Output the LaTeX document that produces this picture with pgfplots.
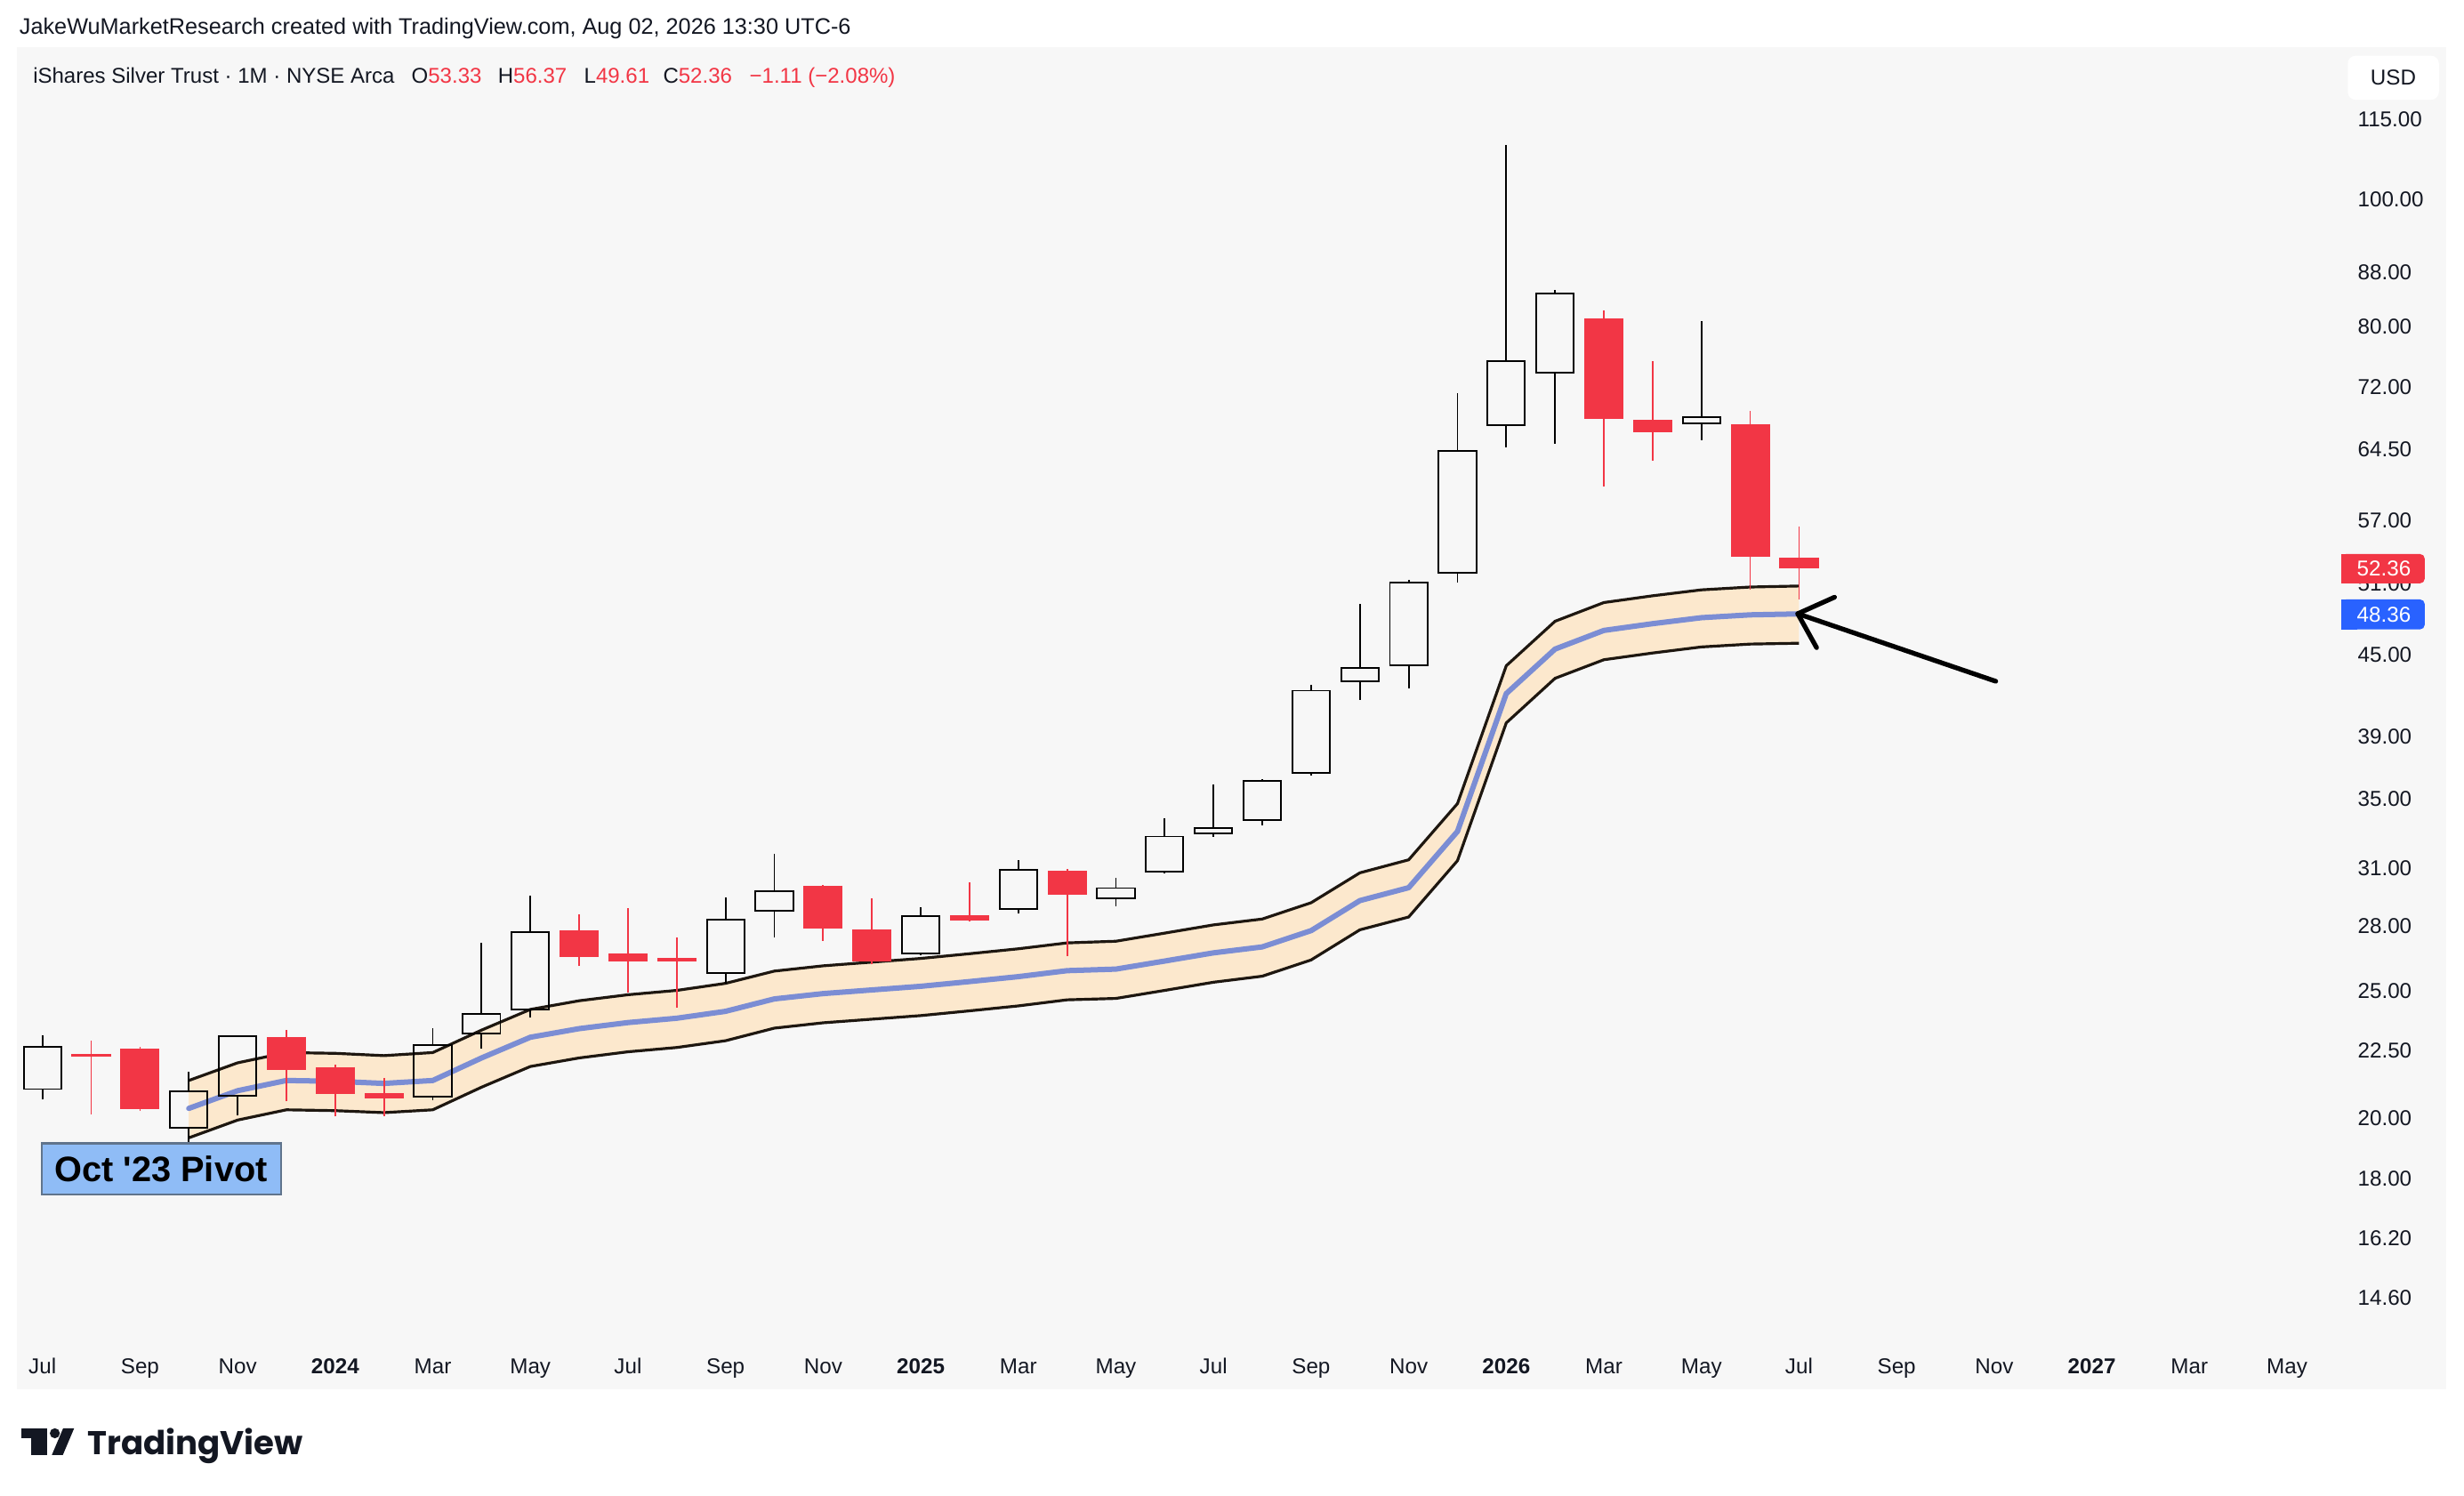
\documentclass[border=0pt]{standalone}
\usepackage{fontspec}
\setmainfont{Liberation Sans}
\newfontfamily\logofont{Poppins}
\usepackage{pgfplots}
\pgfplotsset{compat=1.18}
\usepackage{pgfplotstable}
\definecolor{tvred}{HTML}{F23645}
\definecolor{tvblue}{HTML}{2962FF}
\definecolor{tvtext}{HTML}{131722}
\definecolor{panel}{HTML}{F7F7F7}
\definecolor{peach}{HTML}{FCE8CD}
\definecolor{bandblue}{HTML}{7B8DD4}
\definecolor{bandedge}{HTML}{1E1710}
\definecolor{pivotfill}{HTML}{8FBCF6}
\definecolor{pivotdraw}{HTML}{60748C}
\newcommand{\tkf}{\fontsize{6.85pt}{8pt}\selectfont}

% Band: middle line, upper and lower envelope (month index, Jul 2023 = 0)
\pgfplotstableread{
m mid up lo
3 20.34 21.36 19.32
4 20.98 22.03 19.93
5 21.36 22.43 20.29
6 21.33 22.40 20.26
7 21.25 22.31 20.19
8 21.36 22.43 20.29
9 22.22 23.33 21.11
10 23.04 24.19 21.89
11 23.39 24.56 22.22
12 23.64 24.82 22.46
13 23.82 25.01 22.63
14 24.11 25.32 22.90
15 24.64 25.87 23.41
16 24.87 26.11 23.63
17 25.03 26.28 23.78
18 25.19 26.45 23.93
19 25.40 26.67 24.13
20 25.62 26.90 24.34
21 25.89 27.18 24.60
22 25.96 27.26 24.66
23 26.33 27.65 25.01
24 26.71 28.05 25.37
25 26.99 28.34 25.64
26 27.77 29.16 26.38
27 29.27 30.73 27.81
28 29.94 31.44 28.44
29 33.04 34.69 31.39
30 42.06 44.16 39.96
31 45.47 47.74 43.20
32 46.98 49.33 44.63
33 47.54 49.92 45.16
34 48.04 50.44 45.64
35 48.28 50.69 45.87
36 48.36 50.78 45.94
}\band

\begin{document}
\begin{tikzpicture}
\fill[white] (0,0) rectangle (784pt,476pt);
\begin{scope}[x=0.5pt,y=-0.5pt,shift={(0pt,476pt)}]
  \fill[panel] (11,30) rectangle (1556.6,884);
  \node[anchor=base west, inner sep=0, text=tvtext, font=\fontsize{7.15pt}{8pt}\selectfont] at (12,22)
    {JakeWuMarketResearch created with TradingView.com, Aug 02, 2026 13:30 UTC-6};
  \begin{scope}[every node/.style={anchor=base west, inner sep=0, text=tvtext, font=\fontsize{6.8pt}{8pt}\selectfont}]
    \node at (20.7,53) {iShares Silver Trust · 1M · NYSE Arca};
    \node at (261.5,53) {O\textcolor{tvred}{53.33}};
    \node at (316.5,53) {H\textcolor{tvred}{56.37}};
    \node at (371.3,53) {L\textcolor{tvred}{49.61}};
    \node at (421.6,53) {C\textcolor{tvred}{52.36}};
    \node at (476.6,53) {\textcolor{tvred}{−1.11 (−2.08\%)}};
  \end{scope}
  % TradingView logo
  \fill[tvtext] (13.6,909) rectangle (30.2,915.2);
  \fill[tvtext] (19.8,909) rectangle (30.2,926);
  \fill[tvtext] (34.9,912.2) circle[radius=3.2];
  \fill[tvtext] (40.2,909) -- (47.2,909) -- (40.0,926) -- (33.0,926) -- cycle;
  \node[anchor=base west, inner sep=0, text=tvtext, font=\logofont\bfseries\fontsize{10.5pt}{12pt}\selectfont] at (55.3,926) {TradingView};
\end{scope}

\begin{axis}[
  at={(5.5pt,50pt)}, anchor=south west, scale only axis,
  width=733.5pt, height=411pt,
  xmin=-0.515, xmax=46.73,
  ymode=log, ymin=13.59, ymax=130.5,
  axis line style={draw=none},
  tick style={draw=none}, major tick length=0pt, minor tick length=0pt,
  xtick={0,2,...,46},
  xticklabels={Jul,Sep,Nov,\textbf{2024},Mar,May,Jul,Sep,Nov,\textbf{2025},Mar,May,Jul,Sep,Nov,\textbf{2026},Mar,May,Jul,Sep,Nov,\textbf{2027},Mar,May},
  ytick={14.6,16.2,18,20,22.5,25,28,31,35,39,45,51,57,64.5,72,80,88,100,115},
  yticklabels={14.60,16.20,18.00,20.00,22.50,25.00,28.00,31.00,35.00,39.00,45.00,51.00,57.00,64.50,72.00,80.00,88.00,100.00,115.00},
  yticklabel pos=right,
  xticklabel style={font=\tkf, text=tvtext, anchor=base, yshift=-11.2pt, inner sep=0pt},
  yticklabel style={font=\tkf, text=tvtext, anchor=west, xshift=11pt, inner sep=0pt},
  unbounded coords=jump,
]
% band area: upper envelope left to right, then lower envelope right to left
\addplot[fill=peach, draw=none] coordinates {
(3,21.36)(4,22.03)(5,22.43)(6,22.40)(7,22.31)(8,22.43)(9,23.33)(10,24.19)(11,24.56)(12,24.82)
(13,25.01)(14,25.32)(15,25.87)(16,26.11)(17,26.28)(18,26.45)(19,26.67)(20,26.90)(21,27.18)(22,27.26)
(23,27.65)(24,28.05)(25,28.34)(26,29.16)(27,30.73)(28,31.44)(29,34.69)(30,44.16)(31,47.74)(32,49.33)
(33,49.92)(34,50.44)(35,50.69)(36,50.78)
(36,45.94)(35,45.87)(34,45.64)(33,45.16)(32,44.63)(31,43.20)(30,39.96)(29,31.39)(28,28.44)(27,27.81)
(26,26.38)(25,25.64)(24,25.37)(23,25.01)(22,24.66)(21,24.60)(20,24.34)(19,24.13)(18,23.93)(17,23.78)
(16,23.63)(15,23.41)(14,22.90)(13,22.63)(12,22.46)(11,22.22)(10,21.89)(9,21.11)(8,20.29)(7,20.19)
(6,20.26)(5,20.29)(4,19.93)(3,19.32)
} -- cycle;
\addplot[bandedge, line width=0.9pt, line join=round] table[x=m, y=up] {\band};
\addplot[bandedge, line width=0.9pt, line join=round] table[x=m, y=lo] {\band};
\addplot[bandblue, line width=1.7pt, line join=round, line cap=round] table[x=m, y=mid] {\band};

% ---- rising (hollow) candles: wick low->open and close->high
\addplot[black, line width=0.5pt] coordinates {
(0,20.65)(0,21.04)(0,nan)(0,22.65)(0,23.12)(0,nan)
(3,18.96)(3,19.66)(3,nan)(3,20.96)(3,21.70)(3,nan)
(4,20.08)(4,20.80)(4,nan)(4,23.07)(4,23.12)(4,nan)
(8,20.63)(8,20.77)(8,nan)(8,22.72)(8,23.42)(8,nan)
(9,22.60)(9,23.18)(9,nan)(9,23.99)(9,27.20)(9,nan)
(10,23.85)(10,24.18)(10,nan)(10,27.68)(10,29.53)(10,nan)
(14,25.29)(14,25.80)(14,nan)(14,28.33)(14,29.44)(14,nan)
(15,27.45)(15,28.76)(15,nan)(15,29.74)(15,31.78)(15,nan)
(18,26.60)(18,26.69)(18,nan)(18,28.47)(18,28.95)(18,nan)
(20,28.60)(20,28.83)(20,nan)(20,30.91)(20,31.43)(20,nan)
(22,29.00)(22,29.37)(22,nan)(22,29.92)(22,30.47)(22,nan)
(23,30.70)(23,30.80)(23,nan)(23,32.75)(23,33.82)(23,nan)
(24,32.73)(24,32.91)(24,nan)(24,33.25)(24,35.87)(24,nan)
(25,33.39)(25,33.72)(25,nan)(25,36.12)(25,36.20)(25,nan)
(26,36.44)(26,36.62)(26,nan)(26,42.28)(26,42.73)(26,nan)
(27,41.62)(27,43.00)(27,nan)(27,43.97)(27,49.21)(27,nan)
(28,42.47)(28,44.20)(28,nan)(28,51.11)(28,51.30)(28,nan)
(29,51.12)(29,51.96)(29,nan)(29,64.33)(29,71.15)(29,nan)
(30,64.78)(30,67.29)(30,nan)(30,75.34)(30,109.90)(30,nan)
(31,65.15)(31,73.78)(31,nan)(31,84.78)(31,85.30)(31,nan)
(34,65.60)(34,67.54)(34,nan)(34,68.25)(34,80.75)(34,nan)
};
% ---- rising (hollow) candles: body outline, open -> close, half width 0.385
\addplot[black, line width=0.55pt, line join=miter, line cap=rect] coordinates {
(-0.385,21.04)(0.385,21.04)(0.385,22.65)(-0.385,22.65)(-0.385,21.04)(0,nan)
(2.615,19.66)(3.385,19.66)(3.385,20.96)(2.615,20.96)(2.615,19.66)(3,nan)
(3.615,20.80)(4.385,20.80)(4.385,23.07)(3.615,23.07)(3.615,20.80)(4,nan)
(7.615,20.77)(8.385,20.77)(8.385,22.72)(7.615,22.72)(7.615,20.77)(8,nan)
(8.615,23.18)(9.385,23.18)(9.385,23.99)(8.615,23.99)(8.615,23.18)(9,nan)
(9.615,24.18)(10.385,24.18)(10.385,27.68)(9.615,27.68)(9.615,24.18)(10,nan)
(13.615,25.80)(14.385,25.80)(14.385,28.33)(13.615,28.33)(13.615,25.80)(14,nan)
(14.615,28.76)(15.385,28.76)(15.385,29.74)(14.615,29.74)(14.615,28.76)(15,nan)
(17.615,26.69)(18.385,26.69)(18.385,28.47)(17.615,28.47)(17.615,26.69)(18,nan)
(19.615,28.83)(20.385,28.83)(20.385,30.91)(19.615,30.91)(19.615,28.83)(20,nan)
(21.615,29.37)(22.385,29.37)(22.385,29.92)(21.615,29.92)(21.615,29.37)(22,nan)
(22.615,30.80)(23.385,30.80)(23.385,32.75)(22.615,32.75)(22.615,30.80)(23,nan)
(23.615,32.91)(24.385,32.91)(24.385,33.25)(23.615,33.25)(23.615,32.91)(24,nan)
(24.615,33.72)(25.385,33.72)(25.385,36.12)(24.615,36.12)(24.615,33.72)(25,nan)
(25.615,36.62)(26.385,36.62)(26.385,42.28)(25.615,42.28)(25.615,36.62)(26,nan)
(26.615,43.00)(27.385,43.00)(27.385,43.97)(26.615,43.97)(26.615,43.00)(27,nan)
(27.615,44.20)(28.385,44.20)(28.385,51.11)(27.615,51.11)(27.615,44.20)(28,nan)
(28.615,51.96)(29.385,51.96)(29.385,64.33)(28.615,64.33)(28.615,51.96)(29,nan)
(29.615,67.29)(30.385,67.29)(30.385,75.34)(29.615,75.34)(29.615,67.29)(30,nan)
(30.615,73.78)(31.385,73.78)(31.385,84.78)(30.615,84.78)(30.615,73.78)(31,nan)
(33.615,67.54)(34.385,67.54)(34.385,68.25)(33.615,68.25)(33.615,67.54)(34,nan)
};
% ---- falling (red) candles: wick low -> high
\addplot[tvred, line width=0.5pt] coordinates {
(1,20.13)(1,22.92)(1,nan)
(2,20.25)(2,22.65)(2,nan)
(5,20.59)(5,23.34)(5,nan)
(6,20.05)(6,21.95)(6,nan)
(7,20.07)(7,21.45)(7,nan)
(11,26.10)(11,28.58)(11,nan)
(12,24.90)(12,28.90)(12,nan)
(13,24.26)(13,27.45)(13,nan)
(16,27.29)(16,30.10)(16,nan)
(17,26.17)(17,29.40)(17,nan)
(19,28.20)(19,30.22)(19,nan)
(21,26.55)(21,30.92)(21,nan)
(32,60.43)(32,82.23)(32,nan)
(33,63.22)(33,75.27)(33,nan)
(35,50.44)(35,69.00)(35,nan)
(36,49.61)(36,56.37)(36,nan)
};
% ---- falling (red) candles: body open -> close (line as wide as the body)
\addplot[tvred, line width=12.5pt, line cap=butt] coordinates {
(1,22.37)(1,22.27)(1,nan)
(2,22.59)(2,20.30)(2,nan)
(5,23.06)(5,21.76)(5,nan)
(6,21.87)(6,20.85)(6,nan)
(7,20.89)(7,20.70)(7,nan)
(11,27.78)(11,26.50)(11,nan)
(12,26.68)(12,26.33)(12,nan)
(13,26.47)(13,26.30)(13,nan)
(16,30.05)(16,27.85)(16,nan)
(17,27.84)(17,26.30)(17,nan)
(19,28.53)(19,28.26)(19,nan)
(21,30.83)(21,29.55)(21,nan)
(32,81.08)(32,68.01)(32,nan)
(33,67.91)(33,66.51)(33,nan)
(35,67.45)(35,53.47)(35,nan)
(36,53.33)(36,52.36)(36,nan)
};
\end{axis}

\begin{scope}[x=0.5pt,y=-0.5pt,shift={(0pt,476pt)}]
  % arrow
  \draw[black, line width=1.5pt, line cap=round, line join=round] (1270,433.6) -- (1144,390.6);
  \draw[black, line width=1.5pt, line cap=round, line join=round] (1167.4,380.1) -- (1144,390.6) -- (1156,412.2);
  % pivot label
  \draw[pivotdraw, fill=pivotfill, line width=0.6pt] (26.4,727.7) rectangle (178.7,760);
  \node[anchor=base, inner sep=0, text=black, font=\bfseries\fontsize{11.25pt}{13pt}\selectfont] at (102.5,752) {Oct \textquotesingle23 Pivot};
  % price labels
  \fill[tvred, rounded corners=1.5pt] (1490,352.6) rectangle (1543,371.3);
  \fill[tvred] (1490,352.6) rectangle (1500,371.3);
  \node[anchor=west, inner sep=0, text=white, font=\tkf] at (1499.5,362) {52.36};
  \fill[tvblue, rounded corners=1.5pt] (1490,381.5) rectangle (1543,400.6);
  \fill[tvblue] (1490,381.5) rectangle (1500,400.6);
  \node[anchor=west, inner sep=0, text=white, font=\tkf] at (1499.5,391) {48.36};
  % USD box
  \fill[white, rounded corners=2.5pt] (1494,35.5) rectangle (1552,63.5);
  \node[inner sep=0, text=tvtext, font=\tkf] at (1523,49.5) {USD};
\end{scope}
\end{tikzpicture}
\end{document}
